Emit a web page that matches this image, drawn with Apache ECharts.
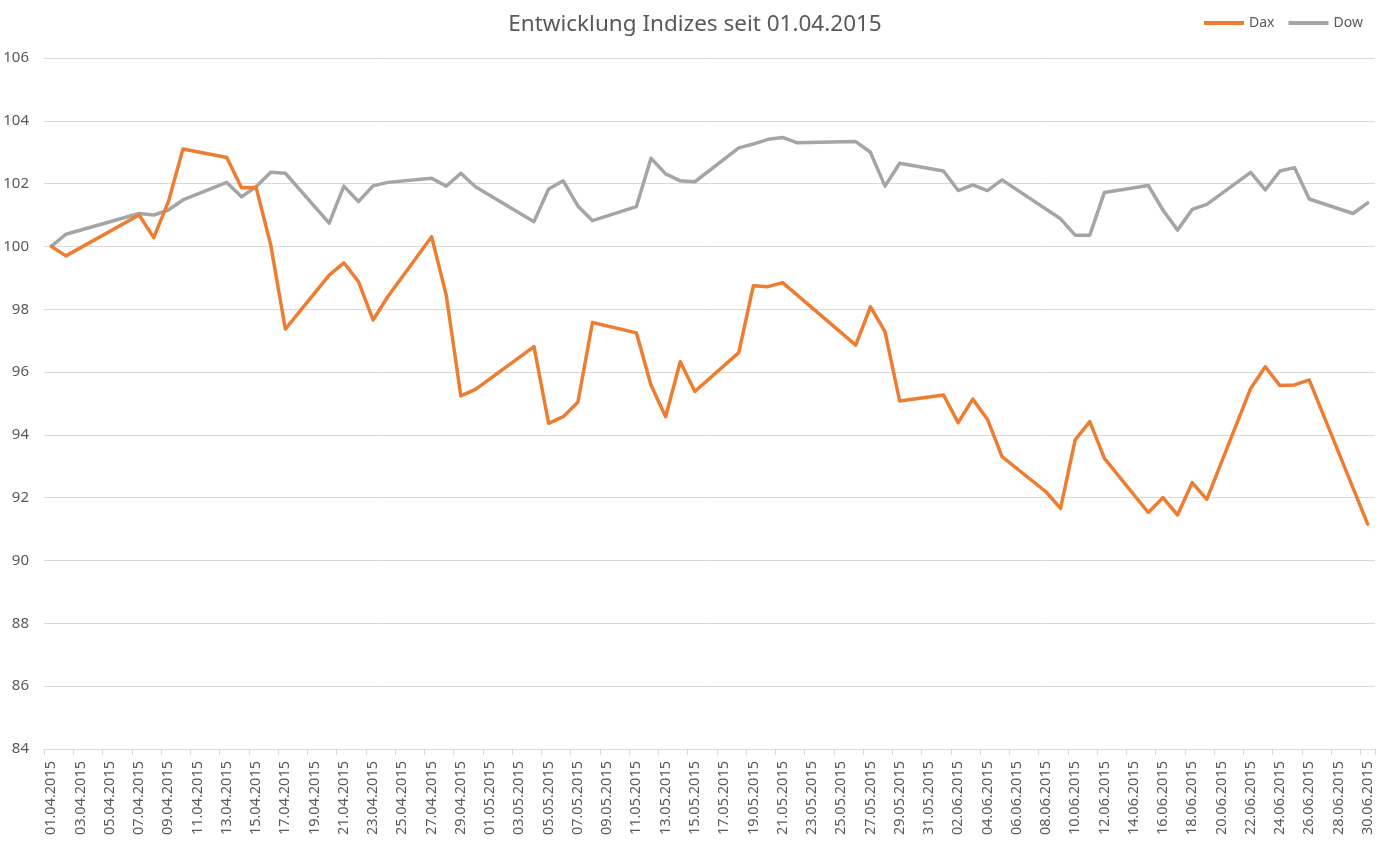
<!DOCTYPE html>
<html>
<head>
<meta charset="utf-8">
<script src="https://cdn.jsdelivr.net/npm/echarts@6/dist/echarts.min.js"></script>
<style>
html,body{margin:0;padding:0;background:#fff;}
#chart{width:1390px;height:852px;}
</style>
</head>
<body>
<div id="chart"></div>
<script>
// Trading dates shown in the chart
const tradeDates = [
  '01.04.2015','02.04.2015','07.04.2015','08.04.2015','09.04.2015','10.04.2015',
  '13.04.2015','14.04.2015','15.04.2015','16.04.2015','17.04.2015',
  '20.04.2015','21.04.2015','22.04.2015','23.04.2015','24.04.2015',
  '27.04.2015','28.04.2015','29.04.2015','30.04.2015',
  '04.05.2015','05.05.2015','06.05.2015','07.05.2015','08.05.2015',
  '11.05.2015','12.05.2015','13.05.2015','14.05.2015','15.05.2015',
  '18.05.2015','19.05.2015','20.05.2015','21.05.2015','22.05.2015',
  '26.05.2015','27.05.2015','28.05.2015','29.05.2015',
  '01.06.2015','02.06.2015','03.06.2015','04.06.2015','05.06.2015',
  '08.06.2015','09.06.2015','10.06.2015','11.06.2015','12.06.2015',
  '15.06.2015','16.06.2015','17.06.2015','18.06.2015','19.06.2015',
  '22.06.2015','23.06.2015','24.06.2015','25.06.2015','26.06.2015',
  '29.06.2015','30.06.2015'
];
const daxValues = [
  100.00, 99.70, 101.00, 100.28, 101.42, 103.10,
  102.83, 101.87, 101.88, 100.05, 97.37,
  99.09, 99.48, 98.88, 97.66, 98.40,
  100.31, 98.45, 95.24, 95.45,
  96.81, 94.37, 94.58, 95.04, 97.58,
  97.25, 95.59, 94.58, 96.33, 95.38,
  96.62, 98.75, 98.72, 98.85, null,
  96.86, 98.08, 97.29, 95.08,
  95.27, 94.39, 95.14, 94.50, 93.31,
  92.19, 91.66, 93.84, 94.42, 93.25,
  91.53, 92.00, 91.45, 92.48, 91.95,
  95.48, 96.17, 95.57, 95.59, 95.75,
  null, 91.16
];
const dowValues = [
  100.00, 100.39, 101.05, 101.00, 101.16, 101.48,
  102.04, 101.58, 101.90, 102.36, 102.33,
  100.74, 101.92, 101.43, 101.93, 102.04,
  102.17, 101.92, 102.33, 101.90,
  100.79, 101.83, 102.09, 101.29, 100.82,
  101.27, 102.81, 102.31, 102.09, 102.06,
  103.14, 103.26, 103.41, 103.47, 103.30,
  103.34, 103.00, 101.92, 102.65,
  102.40, 101.78, 101.96, 101.78, 102.12,
  null, 100.88, 100.36, 100.36, 101.72,
  101.94, 101.16, 100.52, 101.18, 101.34,
  102.36, 101.80, 102.40, 102.51, 101.51,
  101.05, 101.39
];
const yTicks = { min: 84, max: 106, interval: 2 };
const titleText = 'Entwicklung Indizes seit 01.04.2015';
const seriesNames = ['Dax', 'Dow'];

// full calendar axis (every day from 01.04.2015 to 30.06.2015)
const categories = [];
(function () {
  const d = new Date(Date.UTC(2015, 3, 1));
  const end = Date.UTC(2015, 5, 30);
  while (d.getTime() <= end) {
    const dd = String(d.getUTCDate()).padStart(2, '0');
    const mm = String(d.getUTCMonth() + 1).padStart(2, '0');
    categories.push(dd + '.' + mm + '.' + d.getUTCFullYear());
    d.setUTCDate(d.getUTCDate() + 1);
  }
})();
function toFull(vals) {
  const out = categories.map(() => null);
  tradeDates.forEach((t, i) => {
    const idx = categories.indexOf(t);
    if (idx >= 0) out[idx] = vals[i];
  });
  return out;
}

const textColor = '#595959';
const font = "'Noto Sans', 'Open Sans', sans-serif";
const chart = echarts.init(document.getElementById('chart'), null, { renderer: 'canvas' });
chart.setOption({
  animation: false,
  backgroundColor: '#ffffff',
  title: {
    text: titleText,
    left: 'center',
    top: 8,
    textStyle: { fontFamily: font, fontSize: 22.5, fontWeight: 'normal', color: textColor }
  },
  legend: {
    data: seriesNames,
    left: 1199,
    top: 11,
    icon: 'rect',
    itemWidth: 40,
    itemHeight: 4,
    itemGap: 14,
    textStyle: { fontFamily: font, fontSize: 14, color: textColor }
  },
  grid: { left: 44, right: 15, top: 58, bottom: 103, containLabel: false },
  xAxis: {
    type: 'category',
    data: categories,
    boundaryGap: true,
    axisLine: { show: true, lineStyle: { color: '#d9d9d9', width: 1 } },
    axisTick: { show: true, interval: 1, length: 6, lineStyle: { color: '#d9d9d9' } },
    axisLabel: {
      interval: 1,
      rotate: 90,
      margin: 12,
      fontFamily: font,
      fontSize: 14.5,
      color: textColor
    },
    splitLine: { show: false }
  },
  yAxis: {
    type: 'value',
    min: yTicks.min,
    max: yTicks.max,
    interval: yTicks.interval,
    axisLine: { show: false },
    axisTick: { show: false },
    axisLabel: { fontFamily: font, fontSize: 15, color: textColor, margin: 15 },
    splitLine: { show: true, lineStyle: { color: '#d9d9d9', width: 1 } }
  },
  series: [
    {
      name: seriesNames[0],
      type: 'line',
      data: toFull(daxValues),
      connectNulls: true,
      symbol: 'none',
      z: 3,
      lineStyle: { color: '#ED7D31', width: 3.5, cap: 'round', join: 'round' },
      itemStyle: { color: '#ED7D31' }
    },
    {
      name: seriesNames[1],
      type: 'line',
      data: toFull(dowValues),
      connectNulls: true,
      symbol: 'none',
      z: 2,
      lineStyle: { color: '#A5A5A5', width: 3.5, cap: 'round', join: 'round' },
      itemStyle: { color: '#A5A5A5' }
    }
  ]
});
</script>
</body>
</html>
